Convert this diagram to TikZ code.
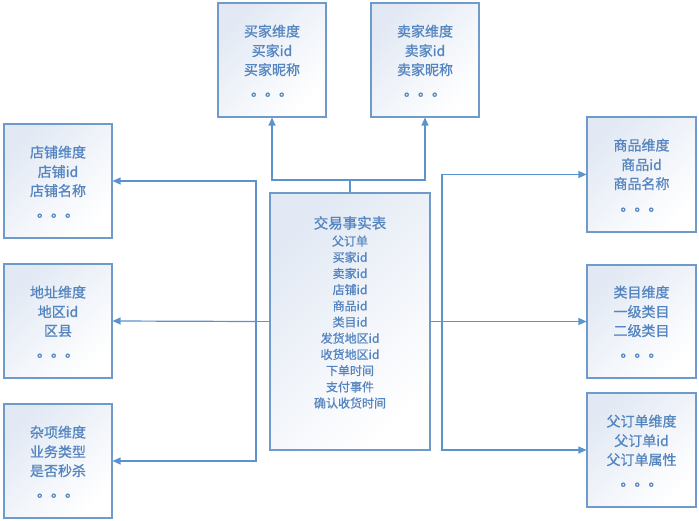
\documentclass[tikz,border=0pt]{standalone}
\usepackage{fontspec}
\newfontfamily\cjk[FakeBold=0.9]{Noto Sans CJK SC}
\usetikzlibrary{arrows.meta}
\definecolor{boxline}{HTML}{6F9BCB}
\definecolor{conncol}{HTML}{5B93CF}
\definecolor{txtcol}{HTML}{5585C0}
\definecolor{shadeA}{HTML}{E2E9F4}
\tikzset{
  dimbox/.style={draw=boxline, line width=1.1pt, top color=shadeA, bottom color=white, shading angle=45, minimum width=108pt, minimum height=114pt, inner sep=0pt},
  ctrbox/.style={dimbox, minimum width=160pt, minimum height=257pt},
  ln/.style={font=\cjk\fontsize{14}{14}\selectfont, text=txtcol, anchor=base, inner sep=0pt},
  cl/.style={font=\cjk\fontsize{12}{12}\selectfont, text=txtcol, anchor=base, inner sep=0pt},
  ct/.style={font=\cjk\fontsize{14.5}{14.5}\selectfont, text=txtcol, anchor=base, inner sep=0pt},
  dots/.style={font=\cjk\fontsize{14}{14}\selectfont, text=txtcol, anchor=base, inner sep=0pt},
  conn/.style={draw=conncol, line width=1.2pt},
  arr/.style={conn, -{Triangle[length=8pt,width=7pt]}}
}
\begin{document}
\begin{tikzpicture}[x=1pt,y=-1pt]
\useasboundingbox (0,0) rectangle (699,521);
% boxes
\node[dimbox] (buyer) at (272,60) {};
\node[dimbox] (seller) at (425,60) {};
\node[dimbox] (store) at (58,181) {};
\node[dimbox] (addr) at (58,321) {};
\node[dimbox] (misc) at (58,461) {};
\node[dimbox, minimum width=109pt, minimum height=115pt] (prod) at (641.5,174.5) {};
\node[dimbox, minimum width=109pt, minimum height=113pt] (cat) at (641.5,321.5) {};
\node[dimbox, minimum width=109pt, minimum height=114pt] (par) at (641.5,450) {};
\node[ctrbox] (ctr) at (350,321.5) {};
% buyer
\node[ln] (b1) at (272,36.5) {买家维度};
\node[ln] (b2) at (272,56) {买家id};
\node[ln] (b3) at (272,75) {买家昵称};
\node[dots] (b4) at (272,96) {。。。};
% seller
\node[ln] (s1) at (425,36.5) {卖家维度};
\node[ln] (s2) at (425,56) {卖家id};
\node[ln] (s3) at (425,75) {卖家昵称};
\node[dots] (s4) at (425,96) {。。。};
% store
\node[ln] (d1) at (58,157.5) {店铺维度};
\node[ln] (d2) at (58,177) {店铺id};
\node[ln] (d3) at (58,196) {店铺名称};
\node[dots] (d4) at (58,217) {。。。};
% address
\node[ln] (a1) at (58,297.5) {地址维度};
\node[ln] (a2) at (58,317) {地区id};
\node[ln] (a3) at (58,336) {区县};
\node[dots] (a4) at (58,357) {。。。};
% misc
\node[ln] (m1) at (58,437.5) {杂项维度};
\node[ln] (m2) at (58,457) {业务类型};
\node[ln] (m3) at (58,476) {是否秒杀};
\node[dots] (m4) at (58,497) {。。。};
% product
\node[ln] (p1) at (641.5,150.5) {商品维度};
\node[ln] (p2) at (641.5,170) {商品id};
\node[ln] (p3) at (641.5,189) {商品名称};
\node[dots] (p4) at (641.5,211) {。。。};
% category
\node[ln] (c1) at (641.5,297.5) {类目维度};
\node[ln] (c2) at (641.5,317) {一级类目};
\node[ln] (c3) at (641.5,336) {二级类目};
\node[dots] (c4) at (641.5,357) {。。。};
% parent order
\node[ln] (o1) at (641.5,426.5) {父订单维度};
\node[ln] (o2) at (641.5,446) {父订单id};
\node[ln] (o3) at (641.5,465) {父订单属性};
\node[dots] (o4) at (641.5,486) {。。。};
% center
\node[ct] (t0) at (350,228.5) {交易事实表};
\node[cl] (t1) at (350,245.6) {父订单};
\node[cl] (t2) at (350,261.8) {买家id};
\node[cl] (t3) at (350,278.0) {卖家id};
\node[cl] (t4) at (350,294.2) {店铺id};
\node[cl] (t5) at (350,310.4) {商品id};
\node[cl] (t6) at (350,326.6) {类目id};
\node[cl] (t7) at (350,342.8) {发货地区id};
\node[cl] (t8) at (350,359.0) {收货地区id};
\node[cl] (t9) at (350,375.2) {下单时间};
\node[cl] (t10) at (350,391.4) {支付事件};
\node[cl] (t11) at (350,407.6) {确认收货时间};
% junctions
\coordinate (tj) at (350,180);
\coordinate (lj) at (256,321.5);
\coordinate (rj) at (442,321.5);
% connectors
\draw[conn] (ctr.north) -- (tj);
\draw[arr] (tj) -| (buyer.south);
\draw[arr] (tj) -| (seller.south);
\draw[conn] (ctr.west) -- (lj);
\draw[arr] (lj) |- (store.east);
\draw[arr] (lj) -- (addr.east);
\draw[arr] (lj) |- (misc.east);
\draw[conn] (ctr.east) -- (rj);
\draw[arr] (rj) |- (prod.west);
\draw[arr] (rj) -- (cat.west);
\draw[arr] (rj) |- (par.west);
\end{tikzpicture}
\end{document}
